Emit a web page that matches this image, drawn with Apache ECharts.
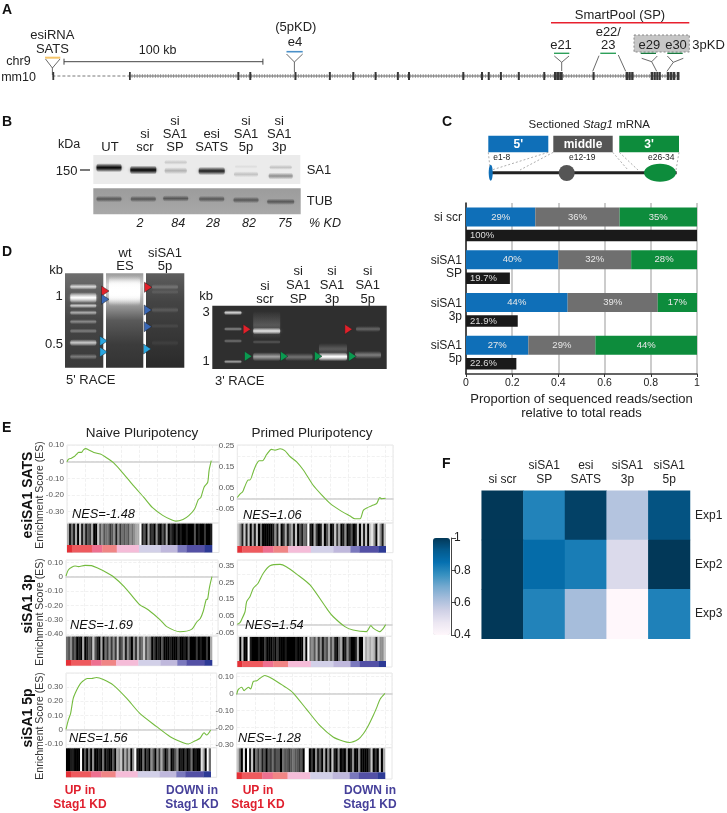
<!DOCTYPE html>
<html><head><meta charset="utf-8">
<script src="https://cdn.jsdelivr.net/npm/echarts@6/dist/echarts.min.js"></script>
<style>html,body{margin:0;background:#fff}#c{width:727px;height:813px}</style></head>
<body><div id="c"></div>
<script>
// ---------- DATA ----------
const readCategories=['si scr','siSA1\nSP','siSA1\n3p','siSA1\n5p'];
const read5p=[0.30,0.40,0.44,0.27];
const readMiddle=[0.365,0.315,0.39,0.29];
const read3p=[0.335,0.285,0.17,0.44];
const read5pLabels=['29%','40%','44%','27%'];
const readMiddleLabels=['36%','32%','39%','29%'];
const read3pLabels=['35%','28%','17%','44%'];
const totalReads=[1,0.19,0.224,0.218];
const totalLabels=['100%','19.7%','21.9%','22.6%'];

const heatColumns=['si scr','siSA1\nSP','esi\nSATS','siSA1\n3p','siSA1\n5p'];
const heatRows=['Exp1','Exp2','Exp3'];
const heatExp1=[1,0.805,0.98,0.6,0.94];
const heatExp2=[1,0.865,0.82,0.52,1];
const heatExp3=[1,0.805,0.625,0.4,0.81];
const heatTicks=[0.4,0.6,0.8,1];
const puBu=['#fff7fb','#ece7f2','#d0d1e6','#a6bddb','#74a9cf','#3690c0','#0570b0','#045a8d','#023858'];

const curveEsiNaive=[[0,0],[1,.015],[3,.021],[5,.031],[6.5,.044],[8,.056],[10,.056],[11.5,.073],[13,.079],[15,.071],[18.5,.056],[23,.046],[26,.031],[32,-.006],[39,-.073],[46,-.146],[53,-.215],[59,-.277],[66,-.323],[72,-.35],[75,-.358],[80,-.348],[84,-.325],[88,-.285],[90.5,-.229],[92.3,-.215],[94.6,-.152],[97,-.125],[98,-.052],[99.5,.006]];
const curveEsiPrimed=[[0,.006],[1.8,.022],[3.6,.033],[5,.057],[7.4,.089],[8.5,.089],[10.8,.128],[12.6,.16],[14.8,.18],[17,.18],[19.8,.21],[23,.234],[25.4,.23],[28.8,.237],[32,.228],[35.5,.2],[40,.175],[44.5,.136],[51,.065],[57,.017],[62.5,-.022],[69,-.054],[76,-.082],[79.3,-.095],[82.7,-.095],[85,-.054],[88,-.041],[91.7,-.03],[94,-.022],[96,.006],[97.3,0],[100,.002]];
const curve3pNaive=[[0,.005],[1.6,.047],[3.9,.065],[6.2,.074],[8.5,.07],[13,.079],[17.5,.077],[22,.058],[28,.028],[32.5,0],[40,-.07],[50,-.19],[56.5,-.231],[64.5,-.3],[69,-.347],[78,-.382],[86,-.366],[89.7,-.313],[92,-.29],[94,-.24],[96,-.16],[97,-.155],[98,-.09],[99,-.04],[100,0]];
const curve3pPrimed=[[0,0],[1.8,.01],[3,.03],[5.2,.075],[6.3,.135],[8.5,.165],[10.8,.215],[14,.245],[17.5,.305],[22,.35],[28.8,.358],[33,.344],[40,.3],[49,.235],[61,.085],[64.7,.045],[72.5,-.014],[78,-.034],[87,-.044],[90,-.008],[91.7,-.024],[96,-.044],[98.4,-.024],[100,-.002]];
const curve5pNaive=[[0,.002],[1.6,.067],[3.2,.114],[5,.219],[7.4,.277],[9.7,.319],[12,.342],[14.7,.358],[17.7,.358],[21,.365],[25.8,.351],[32.7,.312],[42,.219],[51,.114],[62.7,.021],[72,-.049],[81,-.091],[84.6,-.1],[89,-.079],[92.6,-.06],[95.4,-.021],[97.2,-.037],[100,-.002]];
const curve5pPrimed=[[0,-.006],[1,.023],[3.4,.037],[5,.017],[7.9,.037],[9.4,.027],[11.2,.071],[13.5,.075],[15.7,.09],[19,.106],[22.5,.094],[27,.071],[33.7,.033],[38,.004],[47,-.092],[56,-.188],[65,-.256],[72,-.281],[76,-.288],[82,-.269],[85.4,-.237],[88.8,-.188],[92,-.131],[94.4,-.083],[96.6,-.035],[100,0]];

const ticksEsiNaive=[.1,0,-.1,-.2,-.3];
const ticksEsiPrimed=[.25,.15,.05,0,-.05];
const ticks3pNaive=[.1,0,-.1,-.2,-.3,-.4];
const ticks3pPrimed=[.35,.25,.15,.05,0,-.05];
const ticks5pNaive=[.3,.2,.1,0,-.1];
const ticks5pPrimed=[.1,0,-.1,-.2,-.3];

const nesLabels=['NES=-1.48','NES=1.06','NES=-1.69','NES=1.54','NES=1.56','NES=-1.28'];

// hit density read column by column: 0 black .. 9 white
const hitsEsiNaive='614160715132600735344235152434354566913061205103160210201001000301002001';
const hitsEsiPrimed='751717061704000001517026146170314391062017036017260150130170717078508517';
const hits3pNaive='435230106013273106042525272361530526347354020103000100020010300020100206';
const hits3pPrimed='807009100010020001020001000010007094536251436351046015200160086767617557';
const hits5pNaive='001100090304050010401003065726360591004020530526302501350102014010086094';
const hits5pPrimed='740809170424130324233043323433230990205130605071050105015005000027020706';

// ranked-list colour bar: boundaries in rank percent and their colours
const rankEdges=[0,3.4,17.2,24.3,34.3,49.6,64.7,76.2,82.4,95,100];
const rankColors=['#e43137','#ee5a5e','#ee7090','#f08585','#f5bcd8','#d2d0e8','#bfb8dc','#7a78bd','#5350a5','#2d3a95'];

// exons on the Stag1 locus: start (kb), width (kb)
const exonStarts=[0,38.5,93,99,121.7,139,150.8,162,173.2,178.8,206.1,215.5,218.9,225,234,246.8,252.2,253.7,255.2,271.6,288.2,289.6,291,300.8,302.2,303.6,305,308.9,310.4,311.9,313.9];
const exonWidths=[.9,.9,1,1,1,1,1,1,1,1,1,1,1,1,1,1,1.4,1.4,1.4,1,1.2,1.2,1.2,1.2,1.2,1.2,.9,1.3,1.3,1.3,1.4];

const laneNames=['UT','si\nscr','si\nSA1\nSP','esi\nSATS','si\nSA1\n5p','si\nSA1\n3p'];
const percentKD=['','2','84','28','82','75'];

// ---------- DRAW HELPERS ----------
const FF='"Liberation Sans",Arial,sans-serif';
const G=[];
function T(x,y,s,o={}){
  const lines=String(s).split('\n'), lh=o.lh||13;
  lines.forEach((ln,i)=>{
    const e={type:'text',silent:true,z:o.z||5,x:x,y:y+i*lh,style:{text:ln,fill:o.color||'#222',
      font:`${o.style||'normal'} ${o.weight||'normal'} ${o.size||12}px ${FF}`,align:o.align||'center',verticalAlign:'middle'}};
    if(o.rot)e.rotation=o.rot;
    G.push(e);
  });
}
function L(pts,c='#333',w=1,dash){G.push({type:'polyline',silent:true,z:3,shape:{points:pts},style:{stroke:c,lineWidth:w,fill:null,lineDash:dash||null}});}
function R(x,y,w,h,f,st,dash,z){G.push({type:'rect',silent:true,z:z||1,shape:{x,y,width:w,height:h},style:{fill:f,stroke:st||null,lineDash:dash||null,lineWidth:st?1:0}});}
function V(stops){return {type:'linear',x:0,y:0,x2:0,y2:1,colorStops:stops.map(s=>({offset:s[0],color:s[1]}))};}
function Band(cx,cy,w,h,rgb,a){
  G.push({type:'rect',silent:true,z:2,shape:{x:cx-w/2,y:cy-h,width:w,height:2*h,r:3},
    style:{shadowBlur:3.5,shadowColor:`rgba(${rgb},${a*.45})`,fill:{type:'linear',x:0,y:0,x2:0,y2:1,colorStops:[{offset:0,color:`rgba(${rgb},0)`},{offset:.5,color:`rgba(${rgb},${a})`},{offset:1,color:`rgba(${rgb},0)`}]}}});
}
function Tri(x,y,c){G.push({type:'polygon',silent:true,z:4,shape:{points:[[x-3.5,y-5],[x+4,y],[x-3.5,y+5]]},style:{fill:c,stroke:'#222',lineWidth:.5}});}

// ---------- PANEL LETTERS ----------
[['A',2,10],['B',2,122],['C',442,122],['D',2,252],['E',2,428],['F',442,464]].forEach(p=>T(p[1],p[2],p[0],{size:14,weight:'bold',align:'left',color:'#111'}));

// ---------- PANEL A (annotations) ----------
T(52.4,35,'esiRNA\nSATS',{size:13,lh:14});
T(18.5,62,'chr9',{size:12.5});T(18.5,78,'mm10',{size:12.5});
L([[45,57.7],[60.3,57.7]],'#f5c469',2);
L([[45.5,59],[52.4,68],[60,59]],'#444',.8);L([[52.4,68],[52.4,75]],'#444',.8);
L([[64,61.7],[262.9,61.7]],'#444',1);L([[64,58.7],[64,64.7]],'#444',1);L([[262.9,58.7],[262.9,64.7]],'#444',1);
T(157.6,50.7,'100 kb',{size:12.5});
T(295.8,27.7,'(5pKD)',{size:13});T(295,42.7,'e4',{size:13});
L([[286.5,51.7],[302.7,51.7]],'#4a90c8',1.6);
L([[286.5,54],[294.4,62],[302.7,54]],'#444',.8);L([[294.4,62],[294.4,72]],'#444',.8);
T(620,15,'SmartPool (SP)',{size:13});
L([[551,22.7],[689.3,22.7]],'#e8202e',1.6);
T(561,45.7,'e21',{size:13});
L([[554,53.3],[569.3,53.3]],'#2ea05a',1.4);
L([[554.3,56],[561.7,62.3],[569,56]],'#444',.8);L([[561.7,62.3],[561.7,71]],'#444',.8);
T(608.3,32,'e22/\n23',{size:13,lh:13});
L([[600.3,53.3],[616,53.3]],'#2ea05a',1.4);
L([[599,55.7],[592.7,71.3]],'#444',.8);L([[618.3,55],[625.7,71.3]],'#444',.8);
R(634,35,55.3,17,'#c6c6c6','#888',[2,2]);
T(649.3,45,'e29',{size:13});T(676,45,'e30',{size:13});T(692.3,45,'3pKD',{size:13,align:'left'});
L([[640.7,53.3],[656,53.3]],'#1a7a40',1.4);L([[667.3,53.3],[682.7,53.3]],'#1a7a40',1.4);
L([[641.7,58.3],[651.7,61.7],[657.3,56]],'#444',.8);L([[651.7,61.7],[656.7,71.3]],'#444',.8);
L([[667.3,56],[673.3,62.3],[683.3,58.3]],'#444',.8);L([[673.3,62.3],[667,71.3]],'#444',.8);
L([[52.4,76],[128.9,76]],'#555',.8,[3,2]);
L([[128.9,76],[679.3,76]],'#666',1);
L([[128.9,76],[679.3,76]],'#888',3.6,[1,1.6]);

// ---------- PANEL B (blots) ----------
const laneX=[109,143.3,175.7,211.7,246,280.7];
T(69,145,'kDa',{size:12.5});T(66.7,171.7,'150',{size:13});
L([[80,170],[90,170]],'#222',1.2);
[[110,147],[145,134],[175,121],[211.7,134],[246,121],[279.3,121]].forEach((p,i)=>T(p[0],p[1],laneNames[i],{size:13,lh:13}));
R(93.3,155,207,29,'#ebebeb');
Band(109,167.7,25,4.5,'0,0,0',.95);Band(143.3,170,26,4.5,'0,0,0',.95);
Band(175.7,170.7,22,3.5,'60,60,60',.3);Band(175.7,162.3,22,2.5,'60,60,60',.18);
Band(211.7,171,26,4.2,'10,10,10',.85);
Band(246,174.3,24,3,'60,60,60',.22);Band(246,166.7,22,2,'60,60,60',.08);
Band(280.7,176,24,3.5,'50,50,50',.45);Band(280.7,167.3,22,2.5,'60,60,60',.22);
R(93.3,188.3,207.4,26,V([[0,'#9c9c9c'],[1,'#a8a8a8']]));
[199,199,198.5,199,200,201.7].forEach((y,i)=>Band(laneX[i],y,i==5?27:25,3.2,'70,70,70',.75));
T(306.7,170,'SA1',{size:13,align:'left'});T(306.7,201.7,'TUB',{size:13,align:'left'});
[0,140,178.3,213,249,285].forEach((x,i)=>{if(percentKD[i])T(x,224,percentKD[i],{size:12.5,style:'italic'});});
T(325,224,'% KD',{size:12.5,style:'italic'});

// ---------- PANEL C (schematic) ----------
G.push({type:'text',silent:true,z:5,x:589.3,y:125,style:{text:'{a|Sectioned }{b|Stag1}{a| mRNA}',align:'center',verticalAlign:'middle',
  rich:{a:{font:`11.5px ${FF}`,fill:'#222'},b:{font:`italic 11.5px ${FF}`,fill:'#222'}}}});
R(488.3,135.7,60,16.6,'#0f6fb8');R(553.3,135.7,59.4,16.6,'#555555');R(619.3,135.7,59.7,16.6,'#0d8c3c');
T(518.3,144.5,"5'",{size:12,weight:'bold',color:'#fff'});T(583,144.5,'middle',{size:12,weight:'bold',color:'#fff'});T(649,144.5,"3'",{size:12,weight:'bold',color:'#fff'});
T(501.7,157.7,'e1-8',{size:8.5});T(582.3,157.7,'e12-19',{size:8.5});T(661.3,157.7,'e26-34',{size:8.5});
[[[488.3,152.3],[490,168]],[[548.3,152.3],[491.7,170]],[[553.3,152.3],[520,170]],[[612.7,152.3],[628,170]],[[619.3,152.3],[638,170]],[[679,152.3],[676,170]]].forEach(s=>L(s,'#777',.6,[2,2]));
L([[490,172.7],[676.7,172.7]],'#222',3);
G.push({type:'ellipse',silent:true,z:4,shape:{cx:490.7,cy:172.7,rx:2,ry:8},style:{fill:'#0f6fb8'}});
G.push({type:'circle',silent:true,z:4,shape:{cx:566.7,cy:173,r:8},style:{fill:'#555'}});
G.push({type:'ellipse',silent:true,z:4,shape:{cx:660,cy:172.7,rx:16,ry:9},style:{fill:'#0d8c3c'}});

// ---------- PANEL D (gels) ----------
T(56,270,'kb',{size:13});T(59,296.7,'1',{size:13});T(54,344,'0.5',{size:13});
T(125,253,'wt\nES',{size:13,lh:13.5});T(165,253,'siSA1\n5p',{size:13,lh:13.5});
R(65,273.3,38.3,94.4,V([[0,'#6e6e6e'],[.5,'#454545'],[1,'#3a3a3a']]));
[[286.7,3,.7],[297.7,5.5,1],[305.7,2.5,.65],[312.7,2.5,.5],[321.7,2.5,.35],[331,2.5,.3],[342.7,3.5,.65],[356.7,3,.3]].forEach(b=>Band(83.3,b[0],26,b[1],'255,255,255',b[2]));
R(106,273.3,37.3,94.4,V([[0,'#9a9a9a'],[.12,'#d0d0d0'],[.32,'#a0a0a0'],[.5,'#5a5a5a'],[.75,'#3c3c3c'],[1,'#333333']]));
Band(124.5,291,31,15,'255,255,255',1);Band(124.5,291,31,13,'255,255,255',1);Band(124.5,291,31,10,'255,255,255',1);
R(146,273.3,38.3,94.4,V([[0,'#5e5e5e'],[.3,'#444444'],[1,'#2a2a2a']]));
[[287,3,.2],[292,2.5,.1],[310,3,.14],[326,2.5,.08],[343,3,.06]].forEach(b=>Band(165,b[0],26,b[1],'255,255,255',b[2]));
Tri(105,291,'#e2202a');Tri(105,299.3,'#3a68b5');Tri(103.3,341,'#29a6e0');Tri(103.3,352,'#29a6e0');
Tri(148,287.3,'#e2202a');Tri(147.7,310,'#3a68b5');Tri(147.7,326.7,'#3a68b5');Tri(147,349,'#29a6e0');
T(66,380,"5' RACE",{size:13,align:'left'});
T(206,296.7,'kb',{size:13});T(206,312.7,'3',{size:13});T(206,361.7,'1',{size:13});
[[265,286,'si\nscr'],[298.3,271.7,'si\nSA1\nSP'],[332,271.7,'si\nSA1\n3p'],[367.7,271.7,'si\nSA1\n5p']].forEach(p=>T(p[0],p[1],p[2],{size:13,lh:13.7}));
R(212.3,305.7,174.4,63.3,'#2f2f2f');
[[312.7,2.5,.75],[329,2,.4],[341,2,.3],[361.7,2,.5]].forEach(b=>Band(233,b[0],17,b[1],'255,255,255',b[2]));
Band(266.7,325,27,14,'170,170,170',.3);
Band(266.7,331,27,3.5,'255,255,255',.8);Band(266.7,342,27,2,'255,255,255',.18);Band(266.7,356.7,27,4.5,'255,255,255',.5);
Band(299,357,27,4,'255,255,255',.3);
Band(333,356.7,28,4.5,'255,255,255',1);Band(333,349,28,6,'255,255,255',.2);
Band(368,329,24,3,'255,255,255',.25);Band(368,355,26,4,'255,255,255',.35);
Tri(246.7,329.3,'#e2202a');Tri(348.3,329.3,'#e2202a');
[248,284,318,352.3].forEach(x=>Tri(x,356.3,'#0a9a50'));
T(215,381.7,"3' RACE",{size:13,align:'left'});

// ---------- PANEL E (labels) ----------
T(142,433,'Naive Pluripotency',{size:13.5});T(312,433,'Primed Pluripotency',{size:13.5});
T(28,495,'esiSA1 SATS',{size:14,weight:'bold',rot:Math.PI/2,color:'#111'});
T(28,604,'siSA1 3p',{size:14,weight:'bold',rot:Math.PI/2,color:'#111'});
T(28,718,'siSA1 5p',{size:14,weight:'bold',rot:Math.PI/2,color:'#111'});
[495,612,726].forEach(y=>T(40.5,y,'Enrichment Score (ES)',{size:10.5,rot:Math.PI/2,color:'#333'}));
[80,258].forEach(x=>T(x,790.7,'UP in\nStag1 KD',{size:12,weight:'bold',color:'#e0202e',lh:14.4}));
[192,370].forEach(x=>T(x,790.7,'DOWN in\nStag1 KD',{size:12,weight:'bold',color:'#46409a',lh:14.4}));

// ---------- CHART COMPONENTS ----------
const grid=[],xAxis=[],yAxis=[],series=[];
function addGrid(l,t,w,h,extra){grid.push(Object.assign({left:l,top:t,width:w,height:h,containLabel:false},extra||{}));return grid.length-1;}
const hidden={show:false};

// Panel A exons through a kb scale
{
  const g=addGrid(52.4,72,626.9,8);
  xAxis.push({gridIndex:g,type:'value',min:0,max:315.2,show:false});
  yAxis.push({gridIndex:g,type:'value',min:0,max:1,show:false});
  series.push({type:'custom',xAxisIndex:xAxis.length-1,yAxisIndex:yAxis.length-1,clip:false,silent:true,z:8,
    data:exonStarts.map((s,i)=>[s,s+exonWidths[i]]),
    renderItem:(p,api)=>{const a=api.coord([api.value(0),0]),b=api.coord([api.value(1),1]);
      return {type:'rect',shape:{x:a[0],y:b[1],width:b[0]-a[0],height:a[1]-b[1]},style:{fill:'#383838'}};}});
}

// Panel C stacked bars
{
  const g=addGrid(466,203,231,171);
  xAxis.push({gridIndex:g,type:'value',min:0,max:1,interval:.2,
    axisLine:{show:true,onZero:false,lineStyle:{color:'#333',width:1.5}},axisTick:{show:true,length:3,lineStyle:{color:'#333'}},
    axisLabel:{fontFamily:FF,fontSize:10.5,color:'#222',margin:4,formatter:v=>String(+v.toFixed(1))},
    splitLine:{show:true,lineStyle:{color:'#bbbbbb',width:1.5}},
    name:'Proportion of sequenced reads/section\nrelative to total reads',nameLocation:'middle',nameGap:19,
    nameTextStyle:{fontFamily:FF,fontSize:13,color:'#222',lineHeight:13.5}});
  yAxis.push({gridIndex:g,type:'category',inverse:true,data:readCategories,
    axisLine:{show:true,lineStyle:{color:'#222',width:1.5}},axisTick:{show:false},
    axisLabel:{fontFamily:FF,fontSize:12,color:'#222',margin:4,lineHeight:13,
      formatter:v=>v==='si scr'?'{up|si scr}':v,rich:{up:{fontFamily:FF,fontSize:12,color:'#222',padding:[0,0,13,0]}}}});
  const xi=xAxis.length-1,yi=yAxis.length-1;
  const seg=(vals,labs,col)=>({type:'bar',stack:'sections',xAxisIndex:xi,yAxisIndex:yi,barWidth:19,barGap:'18%',data:vals,
    itemStyle:{color:col},silent:true,label:{show:true,position:'inside',fontFamily:FF,fontSize:9.5,color:'#e8e8e8',formatter:p=>labs[p.dataIndex]}});
  series.push(seg(read5p,read5pLabels,'#0f6fb8'),seg(readMiddle,readMiddleLabels,'#6f6f6f'),seg(read3p,read3pLabels,'#0d8c3c'));
  series.push({type:'bar',stack:'total',xAxisIndex:xi,yAxisIndex:yi,barWidth:11.5,barGap:'18%',data:totalReads,silent:true,
    itemStyle:{color:'#1a1a1a'},label:{show:true,position:'insideLeft',distance:4,fontFamily:FF,fontSize:9.5,color:'#dddddd',formatter:p=>totalLabels[p.dataIndex]}});
}

// Panel F heatmap
let heatSeries;
{
  const g=addGrid(481.7,490.7,208.3,148);
  xAxis.push({gridIndex:g,type:'category',position:'top',data:heatColumns,axisLine:hidden,axisTick:hidden,splitLine:hidden,
    axisLabel:{fontFamily:FF,fontSize:12,color:'#222',margin:4,lineHeight:14,interval:0}});
  yAxis.push({gridIndex:g,type:'category',inverse:true,position:'right',data:heatRows,axisLine:hidden,axisTick:hidden,splitLine:hidden,
    axisLabel:{fontFamily:FF,fontSize:12,color:'#222',margin:5}});
  const cells=[];
  [heatExp1,heatExp2,heatExp3].forEach((r,j)=>r.forEach((v,i)=>cells.push([i,j,v])));
  heatSeries=series.length;
  series.push({type:'heatmap',xAxisIndex:xAxis.length-1,yAxisIndex:yAxis.length-1,data:cells,silent:true,label:hidden,itemStyle:{borderWidth:0}});
  // colour-bar ticks
  const g2=addGrid(450,538,1,97);
  xAxis.push({gridIndex:g2,type:'value',min:0,max:1,show:false});
  yAxis.push({gridIndex:g2,type:'value',min:.4,max:1,position:'right',interval:.2,
    axisLine:{show:true,onZero:false,lineStyle:{color:'#444',width:1}},axisTick:{show:true,length:5,lineStyle:{color:'#444'}},splitLine:hidden,
    axisLabel:{fontFamily:FF,fontSize:12,color:'#222',margin:3,formatter:v=>String(+v.toFixed(1)),customValues:heatTicks}});
}

// Panel E GSEA panels
const fmtES=v=>v===0?'0':v.toFixed(2);
const panels=[
 {c:curveEsiNaive,h:hitsEsiNaive,t:ticksEsiNaive,l:67,r:219,e:212,top:445,bot:523,ct:545,sb:552.5,ymin:-.369,ymax:.1006,nx:72,ny:514},
 {c:curveEsiPrimed,h:hitsEsiPrimed,t:ticksEsiPrimed,l:237.3,r:393,e:385.7,top:445,bot:523,ct:546,sb:552.7,ymin:-.115,ymax:.2545,nx:243,ny:515},
 {c:curve3pNaive,h:hits3pNaive,t:ticks3pNaive,l:66,r:218,e:212,top:560,bot:636,ct:660,sb:665.7,ymin:-.412,ymax:.116,nx:70,ny:625},
 {c:curve3pPrimed,h:hits3pPrimed,t:ticks3pPrimed,l:237.3,r:392,e:385.7,top:560,bot:636.3,ct:661,sb:667,ymin:-.0717,ymax:.384,nx:245,ny:625},
 {c:curve5pNaive,h:hits5pNaive,t:ticks5pNaive,l:66,r:216.7,e:210.7,top:673,bot:747.7,ct:771.3,sb:777.3,ymin:-.126,ymax:.3965,nx:69,ny:738},
 {c:curve5pPrimed,h:hits5pPrimed,t:ticks5pPrimed,l:236.7,r:392,e:385,top:673,bot:747.7,ct:772.3,sb:779,ymin:-.319,ymax:.1206,nx:238,ny:738}
];
panels.forEach((p,i)=>{
  const w=p.r-p.l, xmax=100*w/(p.e-p.l);
  const g=addGrid(p.l,p.top,w,p.bot-p.top,{show:true,borderColor:'#e6e6e6',borderWidth:1,backgroundColor:'#fff'});
  xAxis.push({gridIndex:g,type:'value',min:0,max:xmax,interval:12.5,
    axisLine:{show:true,onZero:true,lineStyle:{color:'#cfcfcf',width:1.5}},axisTick:hidden,axisLabel:hidden,
    splitLine:{show:true,lineStyle:{color:'#eeeeee',type:'dashed',width:.8}}});
  yAxis.push({gridIndex:g,type:'value',min:p.ymin,max:p.ymax,
    axisLine:hidden,axisTick:hidden,
    axisLabel:{fontFamily:FF,fontSize:8,color:'#555',margin:3,formatter:fmtES,customValues:p.t,showMinLabel:true,showMaxLabel:true},
    splitLine:{show:true,customValues:p.t,lineStyle:{color:'#eeeeee',type:'dashed',width:.8}}});
  series.push({type:'line',xAxisIndex:xAxis.length-1,yAxisIndex:yAxis.length-1,data:p.c,showSymbol:false,symbol:'none',silent:true,smooth:.25,
    lineStyle:{color:'#74bb3e',width:1.1},z:3});
  T(p.nx,p.ny,nesLabels[i],{size:12.8,style:'italic',align:'left',color:'#111'});
  const g2=addGrid(p.l,p.bot,w,p.sb-p.bot,{show:true,borderColor:'#e6e6e6',borderWidth:1});
  xAxis.push({gridIndex:g2,type:'value',min:0,max:xmax,show:false});
  yAxis.push({gridIndex:g2,type:'value',min:0,max:1,show:false});
  const cy=(p.sb-p.ct)/(p.sb-p.bot), n=p.h.length;
  const xi=xAxis.length-1,yi=yAxis.length-1;
  const hexGray=d=>{const v=Math.round(d*255/9);return `rgb(${v},${v},${v})`;};
  series.push({type:'custom',xAxisIndex:xi,yAxisIndex:yi,clip:false,silent:true,
    data:p.h.split('').map((d,k)=>[k*100/n,(k+1)*100/n,+d]),
    renderItem:(pr,api)=>{const a=api.coord([api.value(0),cy]),b=api.coord([api.value(1),.98]);
      return {type:'rect',shape:{x:a[0],y:b[1],width:b[0]-a[0]+.3,height:a[1]-b[1]},style:{fill:hexGray(api.value(2))}};}});
  series.push({type:'custom',xAxisIndex:xi,yAxisIndex:yi,clip:false,silent:true,
    data:rankColors.map((c,k)=>[rankEdges[k],rankEdges[k+1],k]),
    renderItem:(pr,api)=>{const a=api.coord([api.value(0),0]),b=api.coord([api.value(1),cy]);
      return {type:'rect',shape:{x:a[0],y:b[1],width:b[0]-a[0]+.3,height:a[1]-b[1]},style:{fill:rankColors[api.value(2)]}};}});
});

const chart=echarts.init(document.getElementById('c'),null,{renderer:'canvas'});
chart.setOption({
  animation:false,backgroundColor:'#fff',textStyle:{fontFamily:FF},
  grid,xAxis,yAxis,series,graphic:{elements:G},
  visualMap:{type:'continuous',seriesIndex:heatSeries,dimension:2,min:.4,max:1,left:433,top:538,itemWidth:17,itemHeight:97,
    text:null,calculable:false,realtime:false,inRange:{color:puBu},showLabel:false,textStyle:{color:'transparent',fontSize:1},padding:0}
});
</script></body></html>
